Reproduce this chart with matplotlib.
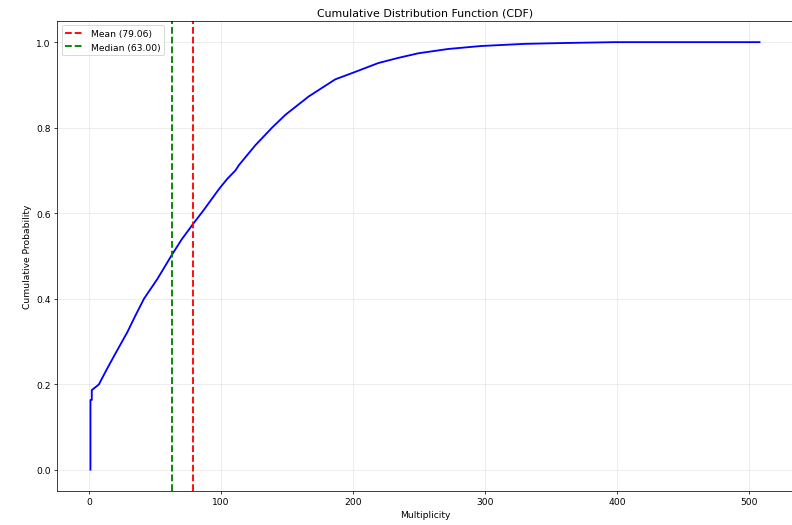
import numpy as np
import matplotlib
matplotlib.use("Agg")
import matplotlib.pyplot as plt

# ECDF (multiplicity, cumulative probability)
multiplicity = [1, 1, 2, 2, 7.3, 13.6, 18.9, 29, 35, 41.6, 51.7, 62.2, 70, 78.1,
                87, 98.3, 104.6, 110.9, 113.4, 126, 138.6, 148.7, 166.4, 186.5,
                200.4, 219, 234, 249.5, 272, 297, 330, 360, 398, 508]
cum_prob = [0.0, 0.163, 0.163, 0.186, 0.199, 0.236, 0.266, 0.322, 0.360, 0.400,
            0.446, 0.500, 0.538, 0.572, 0.608, 0.656, 0.680, 0.700, 0.712,
            0.759, 0.800, 0.830, 0.873, 0.913, 0.929, 0.951, 0.963, 0.974,
            0.984, 0.991, 0.996, 0.998, 1.0, 1.0]
mean_val = 79.06
median_val = 63.00

# large figure rendered at low dpi so everything is scaled down like the reference
fig = plt.figure(figsize=(12.0, 7.96), dpi=66.08)
ax = fig.add_axes([0.0719, 0.0646, 0.9281, 0.894])

ax.plot(multiplicity, cum_prob, color='blue', lw=2)
ax.axvline(mean_val, color='red', linestyle='--', lw=2, label=f'Mean ({mean_val:.2f})')
ax.axvline(median_val, color='green', linestyle='--', lw=2, label=f'Median ({median_val:.2f})')

ax.set_xlabel('Multiplicity', fontsize=10)
ax.set_ylabel('Cumulative Probability', fontsize=10)
ax.set_title('Cumulative Distribution Function (CDF)', fontsize=12)
ax.tick_params(labelsize=10)
ax.grid(True, alpha=0.3)
ax.legend(loc='upper left', fontsize=10)

fig.savefig('out.png', dpi=66.08)
